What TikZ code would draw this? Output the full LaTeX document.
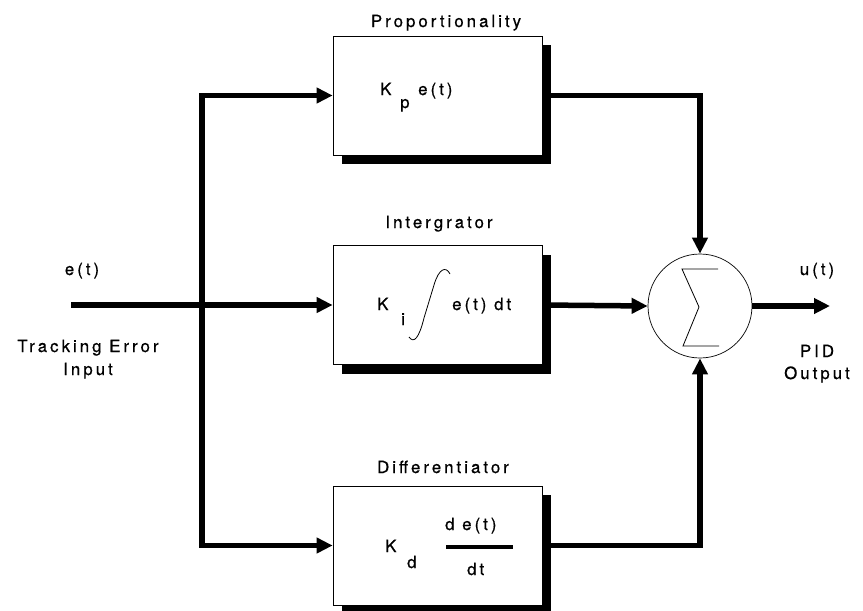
\documentclass[tikz,border=0pt]{standalone}
\usepackage{fontspec}
\setmainfont{TeX Gyre Heros}[LetterSpace=18, FakeBold=0.7]
\usetikzlibrary{arrows.meta,shadows}
\tikzset{
  blk/.style={draw=black, line width=0.7pt, fill=white, minimum width=209pt, minimum height=119pt, inner sep=0pt,
    drop shadow={opacity=1, fill=black, shadow xshift=8.5pt, shadow yshift=-9pt}},
  sumnode/.style={draw=black, line width=0.7pt, fill=white, circle, minimum size=104pt, inner sep=0pt},
  wire/.style={line width=5.5pt, line join=miter},
  arr/.style={wire, -{Triangle[length=16pt,width=15pt]}},
  lbl/.style={anchor=base, inner sep=0pt},
  lblw/.style={anchor=base west, inner sep=0pt},
  thinline/.style={line width=0.8pt}
}
\begin{document}
\begin{tikzpicture}[x=1pt, y=-1pt, font=\fontsize{16.8}{19}\selectfont]
\useasboundingbox (0,0) rectangle (863,611);

% blocks
\node[blk] (P) at (437.5,95.5) {};
\node[blk] (I) at (437.5,305) {};
\node[blk] (D) at (437.5,545.5) {};
\node[sumnode] (S) at (700,306) {};

% titles
\node[lbl] (tP) at (446,27) {Proportionality};
\node[lbl] (tI) at (439,228) {Intergrator};
\node[lbl] (tD) at (443,473) {Differentiator};

% block contents
\node[lblw] (kp) at (380,95) {K};
\node[lblw] (kps) at (400,108) {p};
\node[lblw] (pe) at (418,95) {e(t)};

\node[lblw] (ki) at (377,310) {K};
\node[lblw] (kis) at (401,325) {i};
\draw[thinline] (409,337) .. controls (414,344) and (419,338) .. (424,318)
  -- (434,285) .. controls (439,268) and (446,266) .. (450,274);
\node[lblw] (ie) at (452,310) {e(t) dt};

\node[lblw] (kd) at (385,552) {K};
\node[lblw] (kds) at (407,568) {d};
\node[lblw] (num) at (445,530) {d e(t)};
\draw[line width=4pt] (446,547) -- (513,547);
\node[lblw] (den) at (467,575) {dt};

% sigma
\draw[thinline] (718,269) -- (682,269) -- (699,307) -- (683,346) -- (719,346);

% input side
\coordinate (in) at (71,305);
\coordinate (J) at (202,305);
\draw[wire] (in) -- (J);
\draw[arr] (J) |- (P.west);
\draw[arr] (J) -- (I.west);
\draw[arr] (J) |- (D.west);

% output side
\draw[arr] (P.east) -| (S.north);
\draw[arr] (I.east) -- (S.west);
\draw[arr] (D.east) -| (S.south);
\coordinate (out) at (830,306);
\draw[arr] (S.east) -- (out);

% side labels
\node[lbl] (et) at (82,275) {e(t)};
\node[lbl] (te) at (88,352) {Tracking Error};
\node[lbl] (ti) at (88,375) {Input};
\node[lbl] (ut) at (817,275) {u(t)};
\node[lbl] (pid) at (817,357) {PID};
\node[lbl] (po) at (817,379) {Output};
\end{tikzpicture}
\end{document}
